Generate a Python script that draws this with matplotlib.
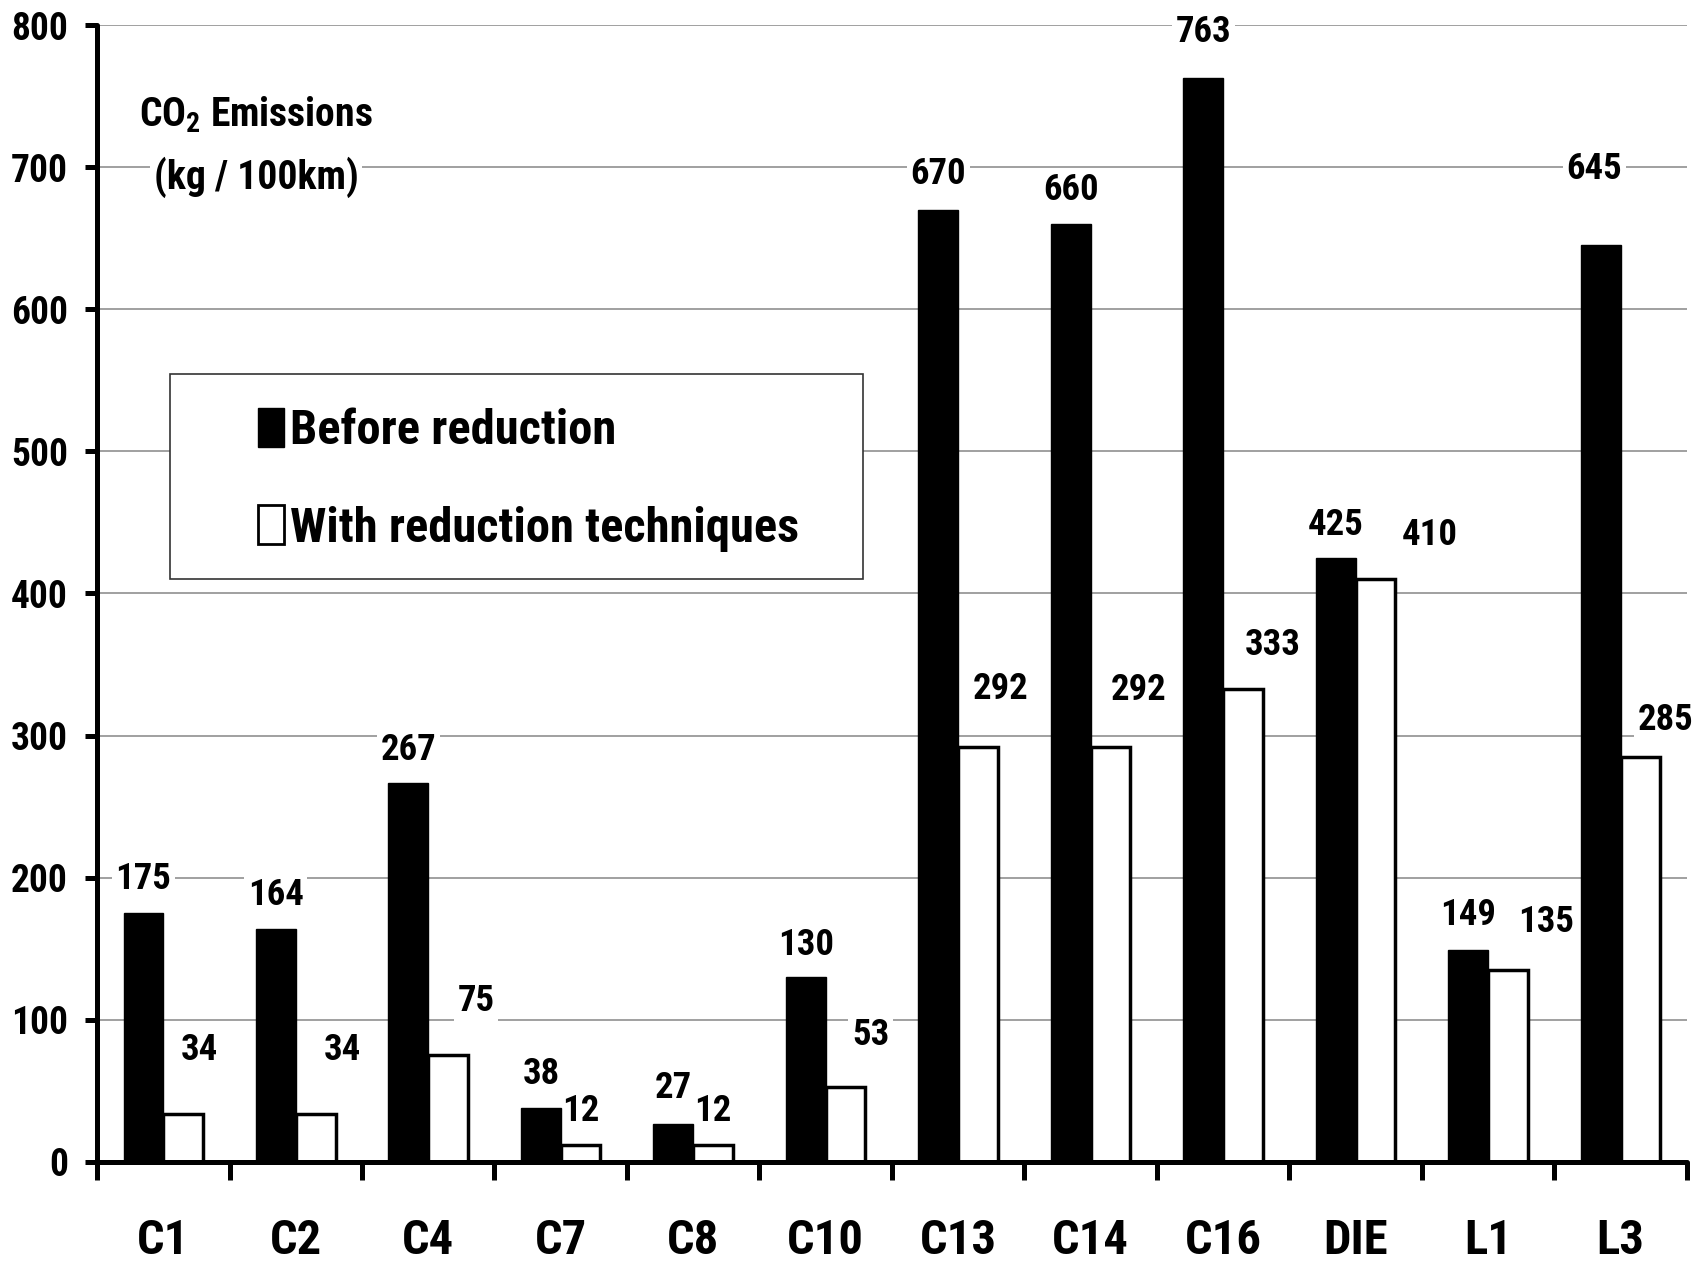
import matplotlib
matplotlib.use("Agg")
import matplotlib.pyplot as plt
from matplotlib import font_manager as fm
from matplotlib.patches import Rectangle, Patch
import numpy as np

categories = ["C1", "C2", "C4", "C7", "C8", "C10", "C13", "C14", "C16", "DIE", "L1", "L3"]
before = [175, 164, 267, 38, 27, 130, 670, 660, 763, 425, 149, 645]
after = [34, 34, 75, 12, 12, 53, 292, 292, 333, 410, 135, 285]
yticks = [0, 100, 200, 300, 400, 500, 600, 700, 800]

# label placement (layout only)
before_dx = [0, 0, 0, 0, 0, 0, 0, 0, 0, 0, 0, -0.05]
before_dy = [24, 24, 23, 24, 25, 23, 25, 24, 32, 23, 25, 54]
after_dx = [0.12, 0.2, 0.21, 0.0, 0.0, 0.19, 0.17, 0.21, 0.22, 0.41, 0.29, 0.19]
after_dy = [45, 45, 38, 24, 24, 36, 41, 40, 31, 31, 34, 26]

# choose a narrow bold sans font that is installed with a static bold face
candidates = ["Liberation Sans Narrow", "Arial Narrow", "Roboto Condensed", "PT Sans Narrow",
              "Pragati Narrow", "Fira Sans Condensed", "IBM Plex Sans Condensed",
              "Archivo Narrow", "Liberation Sans"]
available_bold = {f.name for f in fm.fontManager.ttflist
                  if (isinstance(f.weight, int) and f.weight >= 700) or f.weight in ("bold", "heavy", "black")}
chosen = next((c for c in candidates if c in available_bold), "DejaVu Sans")
FONT = [chosen, "DejaVu Sans"]

plt.rcParams["font.family"] = FONT
plt.rcParams["font.weight"] = "bold"
plt.rcParams["mathtext.fontset"] = "custom"
plt.rcParams["mathtext.rm"] = f"{chosen}:bold"
plt.rcParams["mathtext.it"] = f"{chosen}:bold"
plt.rcParams["mathtext.bf"] = f"{chosen}:bold"

fig = plt.figure(figsize=(17.05, 12.63), dpi=100)
ax = fig.add_axes([0.0569, 0.080, 0.9325, 0.9002])

x = np.arange(len(categories))
w = 0.3
ax.bar(x - w / 2, before, width=w, color="black", edgecolor="black", linewidth=1, zorder=3)
ax.bar(x + w / 2, after, width=w, color="white", edgecolor="black", linewidth=2.5, zorder=2.9)

ax.set_xlim(-0.5, len(categories) - 0.5)
ax.set_ylim(0, 800)

ax.set_yticks(yticks)
ax.set_yticklabels([str(t) for t in yticks], fontsize=27, fontweight="bold")
ax.yaxis.grid(True, color="#999999", linewidth=1.3, zorder=0)
ax.set_axisbelow(True)

ax.set_xticks(x)
ax.set_xticklabels(categories, fontsize=35, fontweight="bold")
ax.set_xticks(np.arange(-0.5, len(categories)), minor=True)
ax.tick_params(axis="x", which="major", length=0, pad=40)
ax.tick_params(axis="x", which="minor", length=13, width=3.6, direction="out", color="black")
ax.tick_params(axis="y", which="major", length=9, width=3.6, direction="out", pad=12, color="black")

for s in ["top", "right"]:
    ax.spines[s].set_visible(False)
for s in ["left", "bottom"]:
    ax.spines[s].set_linewidth(3.6)
    ax.spines[s].set_capstyle("round")
    ax.spines[s].set_zorder(5)

bbox = dict(boxstyle="square,pad=0.1", facecolor="white", edgecolor="none")
for i in range(len(categories)):
    ax.text(x[i] - w / 2 + before_dx[i], before[i] + before_dy[i], str(before[i]),
            ha="center", va="center", fontsize=26.5, fontweight="bold", bbox=bbox, zorder=2.5)
    ax.text(x[i] + w / 2 + after_dx[i], after[i] + after_dy[i], str(after[i]),
            ha="center", va="center", fontsize=26.5, fontweight="bold", bbox=bbox, zorder=2.5)

# axis title inside plot
ax.text(0.1, 0.921, "CO$_{2}$ Emissions", transform=ax.transAxes, ha="center", va="center",
        fontsize=28.5, fontweight="bold", bbox=bbox, zorder=4)
ax.text(0.1, 0.866, "(kg / 100km)", transform=ax.transAxes, ha="center", va="center",
        fontsize=28.5, fontweight="bold", bbox=bbox, zorder=4)

# legend frame
frame = Rectangle((0.046, 0.513), 0.436, 0.180, transform=ax.transAxes,
                  facecolor="white", edgecolor="#333333", linewidth=1.2, zorder=4)
ax.add_patch(frame)
handles = [Patch(facecolor="black", edgecolor="black", linewidth=1),
           Patch(facecolor="white", edgecolor="black", linewidth=2)]
leg = ax.legend(handles, ["Before reduction", "With reduction techniques"],
                loc="center left", bbox_to_anchor=(0.101, 0.600), frameon=False,
                prop={"family": FONT, "weight": "bold", "size": 35},
                handlelength=0.55, handleheight=0.85, handletextpad=0.12,
                labelspacing=1.05, borderpad=0, borderaxespad=0)
leg.set_zorder(6)

fig.savefig("out.png", dpi=100, facecolor="white")
